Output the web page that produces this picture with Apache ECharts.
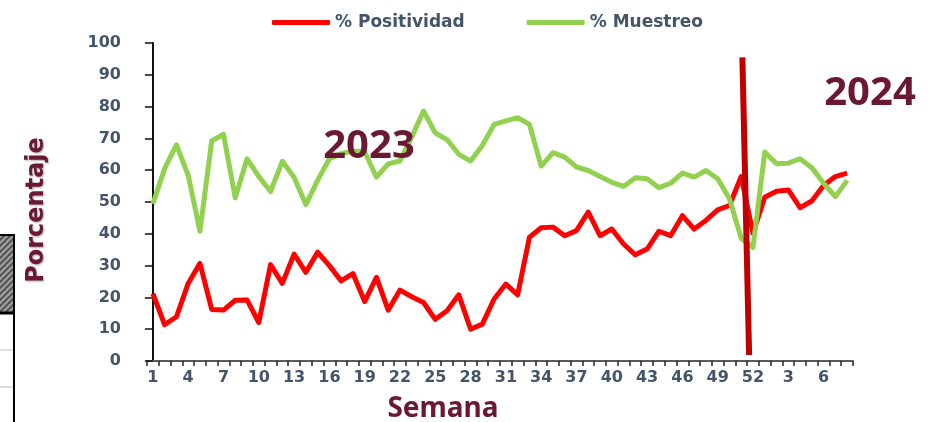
<!DOCTYPE html>
<html>
<head>
<meta charset="utf-8">
<script src="https://cdn.jsdelivr.net/npm/echarts@6/dist/echarts.min.js"></script>
<style>
html,body{margin:0;padding:0;background:#fff;}
#chart{width:937px;height:422px;}
</style>
</head>
<body>
<div id="chart"></div>
<script>
// ---- data ----
var semanas = ['1','2','3','4','5','6','7','8','9','10','11','12','13','14','15','16','17','18','19','20',
  '21','22','23','24','25','26','27','28','29','30','31','32','33','34','35','36','37','38','39','40',
  '41','42','43','44','45','46','47','48','49','50','51','52','1','2','3','4','5','6','7','8'];
var positividad = [21.2,11.4,13.9,24.4,30.7,16.2,16.0,19.1,19.2,12.1,
  30.3,24.4,33.6,27.9,34.2,30.0,25.2,27.5,18.7,26.3,
  16.0,22.3,20.2,18.4,13.1,15.8,20.8,10.0,11.6,19.5,
  24.2,20.8,38.9,41.9,42.1,39.4,41.0,46.8,39.4,41.5,
  36.8,33.4,35.2,40.8,39.4,45.7,41.5,44.2,47.5,48.9,
  58.0,40.2,51.5,53.4,53.8,48.2,50.3,55.2,58.0,59.1];
var muestreo = [49.4,60.5,68.0,58.4,40.8,69.2,71.3,51.3,63.6,58.0,
  53.3,62.8,57.8,49.2,56.8,63.6,65.2,66.0,65.8,57.8,
  62.0,62.9,70.4,78.6,71.7,69.6,65.0,62.9,67.8,74.4,
  75.5,76.5,74.4,61.3,65.5,64.1,61.0,59.9,58.0,56.2,
  54.9,57.6,57.3,54.5,55.9,59.1,57.8,59.9,57.3,51.0,
  38.6,35.7,65.7,62.0,62.2,63.6,60.8,55.9,51.7,56.8];
// year divider (x as category index, y as percent)
var divisor = [[50.1, 95.5], [50.67, 1.9]];
var yTicks = {min: 0, max: 100, interval: 10};
var seriesNames = ['% Positividad', '% Muestreo'];
var yearLabels = ['2023', '2024'];

// ---- hatch pattern ----
var pc = document.createElement('canvas');
pc.width = 6; pc.height = 6;
var g = pc.getContext('2d');
g.fillStyle = '#9a9a9a'; g.fillRect(0,0,6,6);
g.strokeStyle = '#4a4a4a'; g.lineWidth = 1.6;
g.beginPath(); g.moveTo(0,6); g.lineTo(6,0); g.moveTo(-3,3); g.lineTo(3,-3); g.moveTo(3,9); g.lineTo(9,3); g.stroke();

var labelColor = '#44546a';
var maroon = '#6b1832';
var fontFam = '"DejaVu Sans", sans-serif';
var semiFam = '"Noto Sans", sans-serif';

var chart = echarts.init(document.getElementById('chart'), null, {renderer: 'canvas'});
chart.setOption({
  animation: false,
  backgroundColor: '#ffffff',
  grid: {left: 147, right: 84, top: 43, bottom: 61, containLabel: false},
  legend: {
    data: seriesNames,
    left: 267, top: 9,
    itemWidth: 58, itemHeight: 5, itemGap: 62,
    icon: 'roundRect',
    textStyle: {color: labelColor, fontSize: 17, fontWeight: 'bold', fontFamily: fontFam}
  },
  xAxis: [{
    type: 'category',
    data: semanas,
    boundaryGap: true,
    axisLine: {lineStyle: {color: '#595959', width: 2}},
    axisTick: {show: true, interval: 0, length: 5, lineStyle: {color: '#222', width: 1.5}},
    axisLabel: {interval: 2, margin: 9, color: labelColor, fontSize: 16, fontWeight: 'bold', fontFamily: fontFam},
    splitLine: {show: false}
  }, {
    type: 'value', show: false, min: -0.5, max: 59.5
  }],
  yAxis: {
    type: 'value',
    min: yTicks.min, max: yTicks.max, interval: yTicks.interval,
    axisLine: {show: true, lineStyle: {color: '#111', width: 2}},
    axisTick: {show: true, length: 8, lineStyle: {color: '#111', width: 1.5}},
    axisLabel: {margin: 26, color: labelColor, fontSize: 16, fontWeight: 'bold', fontFamily: fontFam},
    splitLine: {show: false}
  },
  series: [{
    name: seriesNames[0], type: 'line', data: positividad,
    symbol: 'none', lineStyle: {color: '#ff0000', width: 5, join: 'round'},
    itemStyle: {color: '#ff0000'}, z: 2
  }, {
    name: seriesNames[1], type: 'line', data: muestreo,
    symbol: 'none', lineStyle: {color: '#92d050', width: 5, join: 'round'},
    itemStyle: {color: '#92d050'}, z: 3
  }, {
    name: 'divisor', type: 'line', xAxisIndex: 1, data: divisor,
    symbol: 'none', lineStyle: {color: '#c00000', width: 6}, z: 4, silent: true
  }],
  graphic: [
    {type: 'text', x: 369, y: 147, z: 10, style: {text: yearLabels[0], fill: maroon, font: 'bold 40px ' + semiFam, textAlign: 'center', textVerticalAlign: 'middle'}},
    {type: 'text', x: 870, y: 94, z: 10, style: {text: yearLabels[1], fill: maroon, font: 'bold 40px ' + semiFam, textAlign: 'center', textVerticalAlign: 'middle'}},
    {type: 'text', x: 443, y: 409, z: 10, style: {text: 'Semana', fill: maroon, font: 'bold 28px ' + semiFam, textAlign: 'center', textVerticalAlign: 'middle'}},
    {type: 'text', x: 37, y: 210, rotation: Math.PI / 2, z: 10, style: {text: 'Porcentaje', fill: maroon, font: 'bold 24px ' + fontFam, textAlign: 'center', textVerticalAlign: 'middle', textShadowColor: 'rgba(0,0,0,0.35)', textShadowBlur: 2, textShadowOffsetX: 1, textShadowOffsetY: 1}},
    // cropped table fragment at left edge
    {type: 'rect', shape: {x: -2, y: 235, width: 16, height: 78}, style: {fill: {image: pc, repeat: 'repeat'}, stroke: '#000', lineWidth: 2}},
    {type: 'line', shape: {x1: 0, y1: 313, x2: 15, y2: 313}, style: {stroke: '#000', lineWidth: 3}},
    {type: 'line', shape: {x1: 14, y1: 313, x2: 14, y2: 422}, style: {stroke: '#000', lineWidth: 2}},
    {type: 'line', shape: {x1: 0, y1: 350, x2: 13, y2: 350}, style: {stroke: '#bbb', lineWidth: 1}},
    {type: 'line', shape: {x1: 0, y1: 387, x2: 13, y2: 387}, style: {stroke: '#bbb', lineWidth: 1}}
  ]
});
</script>
</body>
</html>
